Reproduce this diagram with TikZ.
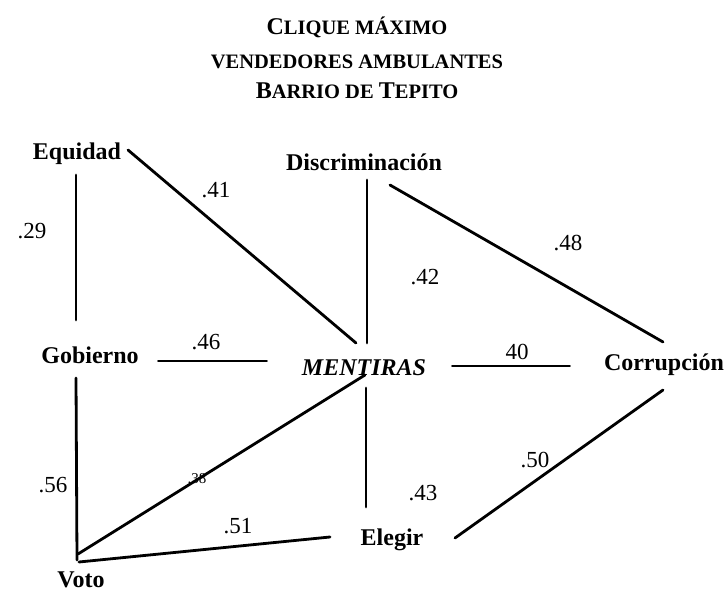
\documentclass[tikz,border=0pt]{standalone}
\usepackage{fontspec}
\setmainfont{Liberation Serif}
\newcommand{\bigL}[1]{{\fontsize{24}{28}\selectfont\bfseries #1}}
\newcommand{\smL}[1]{{\fontsize{20.5}{24}\selectfont\bfseries #1}}
\begin{document}
\begin{tikzpicture}[x=1pt,y=-1pt,
  lbl/.style={inner sep=0pt, anchor=base, font=\fontsize{24}{28}\selectfont\bfseries},
  num/.style={inner sep=0pt, anchor=center, font=\fontsize{23}{26}\selectfont},
  ttl/.style={inner sep=0pt, anchor=base, font=\bfseries},
  link/.style={line width=2.8pt, line cap=round}]
\useasboundingbox (0,0) rectangle (726,591);
% title
\node[ttl] (t1) at (357,35) {\bigL{C}\smL{LIQUE MÁXIMO}};
\node[ttl] (t2) at (357,69) {\smL{VENDEDORES AMBULANTES}};
\node[ttl] (t3) at (357,99) {\bigL{B}\smL{ARRIO DE }\bigL{T}\smL{EPITO}};
% nodes
\node[lbl] (equ) at (77,160) {Equidad};
\node[lbl] (dis) at (364,171) {Discriminación};
\node[lbl] (gob) at (90,363) {Gobierno};
\node[lbl,font=\fontsize{24}{28}\selectfont\bfseries\itshape] (men) at (364,375) {MENTIRAS};
\node[lbl] (cor) at (664,370) {Corrupción};
\node[lbl] (ele) at (392,545) {Elegir};
\node[lbl] (vot) at (81,587) {Voto};
% connector end points
\coordinate (equS) at (76,175);
\coordinate (gobN) at (76,320);
\coordinate (equE) at (128,150);
\coordinate (menNW) at (356,343);
\coordinate (disS) at (367,180);
\coordinate (menN) at (367,343);
\coordinate (disE) at (390,185);
\coordinate (corN) at (663,342);
\coordinate (gobE) at (158,361);
\coordinate (menW) at (267,361);
\coordinate (menE) at (452,366);
\coordinate (corW) at (570,366);
\coordinate (menS) at (366,388);
\coordinate (eleN) at (366,507);
\coordinate (gobS) at (76,378);
\coordinate (votN) at (77,560);
\coordinate (votNE) at (78,554);
\coordinate (menSW) at (365,375);
\coordinate (votE) at (79,562);
\coordinate (eleW) at (330,537);
\coordinate (eleE) at (455,538);
\coordinate (corS) at (663,390);
% connectors
\draw[link] (equS) -- (gobN);
\draw[link] (equE) -- (menNW);
\draw[link] (disS) -- (menN);
\draw[link] (disE) -- (corN);
\draw[link,line width=1.9pt] (gobE) -- (menW);
\draw[link,line width=1.9pt] (menE) -- (corW);
\draw[link] (menS) -- (eleN);
\draw[link] (gobS) -- (votN);
\draw[link] (votNE) -- (menSW);
\draw[link] (votE) -- (eleW);
\draw[link] (eleE) -- (corS);
% weights
\node[num] (w29) at (32,231) {.29};
\node[num] (w41) at (216,190) {.41};
\node[num] (w42) at (425,277) {.42};
\node[num] (w48) at (568,243) {.48};
\node[num] (w46) at (206,342) {.46};
\node[num] (w40) at (517,352) {40};
\node[num] (w56) at (53,485) {.56};
\node[num,font=\fontsize{15}{18}\selectfont] (w38) at (197,479) {.38};
\node[num] (w51) at (238,526) {.51};
\node[num] (w43) at (423,493) {.43};
\node[num] (w50) at (535,460) {.50};
\end{tikzpicture}
\end{document}
